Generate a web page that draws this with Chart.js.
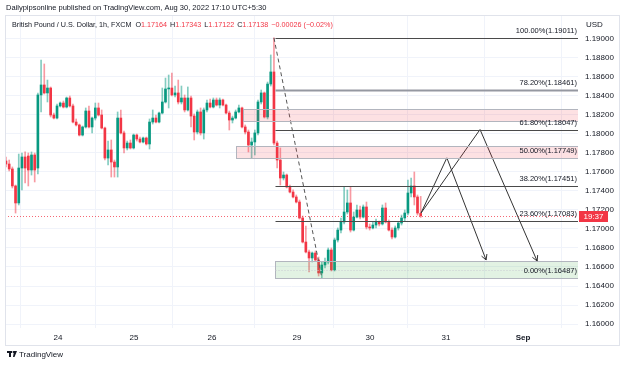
<!DOCTYPE html>
<html><head><meta charset="utf-8">
<script src="https://cdn.jsdelivr.net/npm/chart.js@4.4.0/dist/chart.umd.min.js"></script>
<style>html,body{margin:0;padding:0;background:#fff;}canvas{display:block;}</style>
</head><body>
<canvas id="c" width="625" height="367"></canvas>
<script>
// ---- data (GBP/USD 1h, FXCM) ----
const opens = [1.17716,1.17684,1.17632,1.17453,1.17274,1.17642,1.17758,1.17768,1.17621,1.17779,
1.17642,1.18411,1.18516,1.18432,1.18484,1.18200,1.18168,1.18295,1.18326,1.18284,
1.18379,1.18295,1.18126,1.18095,1.17989,1.18074,1.18242,1.18074,1.18168,1.18274,
1.18200,1.18063,1.17747,1.17832,1.17705,1.17653,1.18168,1.18011,1.17853,1.17905,
1.17853,1.17989,1.17947,1.17916,1.17958,1.17895,1.18126,1.18168,1.18126,1.18221,
1.18337,1.18474,1.18484,1.18411,1.18432,1.18337,1.18379,1.18253,1.18379,1.18189,
1.18021,1.18232,1.18011,1.18253,1.18326,1.18284,1.18358,1.18305,1.18358,1.18305,
1.18221,1.18147,1.18168,1.18232,1.18274,1.18074,1.18021,1.17884,1.17916,1.18011,
1.18337,1.18432,1.18179,1.18526,1.18653,1.17905,1.17726,1.17537,1.17568,1.17442,
1.17389,1.17337,1.17284,1.17116,1.16863,1.16758,1.16695,1.16747,1.16674,1.16537,
1.16621,1.16653,1.16779,1.16568,1.16884,1.16989,1.17074,1.17179,1.17274,1.16989,
1.17126,1.17200,1.17126,1.17232,1.17021,1.17011,1.17042,1.17074,1.17053,1.17221,
1.17074,1.16989,1.16916,1.17011,1.17063,1.17116,1.17168,1.17379,1.17453,1.17337,
1.17164];
const highs = [1.17758,1.17726,1.17653,1.17463,1.17789,1.17800,1.17811,1.17800,1.17811,1.17800,
1.18432,1.18779,1.18737,1.18568,1.18495,1.18221,1.18316,1.18337,1.18347,1.18389,
1.18400,1.18316,1.18158,1.18105,1.18084,1.18274,1.18295,1.18179,1.18326,1.18326,
1.18253,1.18074,1.17926,1.17937,1.17726,1.18232,1.18253,1.18032,1.17926,1.17937,
1.18000,1.18000,1.17968,1.17968,1.17968,1.18158,1.18253,1.18200,1.18232,1.18484,
1.18589,1.18621,1.18642,1.18505,1.18568,1.18505,1.18411,1.18495,1.18400,1.18211,
1.18253,1.18274,1.18274,1.18358,1.18368,1.18379,1.18379,1.18379,1.18368,1.18316,
1.18242,1.18189,1.18253,1.18305,1.18284,1.18095,1.18042,1.17958,1.18042,1.18358,
1.18463,1.18442,1.18547,1.18832,1.19011,1.17926,1.17853,1.17600,1.17579,1.17463,
1.17411,1.17358,1.17305,1.17137,1.17032,1.16779,1.16758,1.16768,1.16705,1.16653,
1.16695,1.16800,1.16800,1.16905,1.17011,1.17116,1.17442,1.17411,1.17442,1.17179,
1.17253,1.17242,1.17253,1.17284,1.17053,1.17074,1.17105,1.17084,1.17253,1.17274,
1.17095,1.17011,1.17032,1.17074,1.17147,1.17200,1.17516,1.17537,1.17600,1.17358,
1.17343];
const lows = [1.17653,1.17611,1.17432,1.17168,1.17253,1.17411,1.17484,1.17453,1.17568,1.17495,
1.17579,1.18232,1.18421,1.18337,1.18179,1.18158,1.18158,1.18284,1.18274,1.18274,
1.18284,1.18116,1.18084,1.17979,1.17979,1.18063,1.18063,1.18011,1.18147,1.18189,
1.18053,1.17726,1.17674,1.17547,1.17547,1.17547,1.18000,1.17800,1.17832,1.17842,
1.17842,1.17926,1.17905,1.17905,1.17884,1.17842,1.18105,1.18116,1.18116,1.18211,
1.18326,1.18274,1.18400,1.18389,1.18316,1.18316,1.18232,1.18242,1.18074,1.17937,
1.18000,1.17989,1.17947,1.18232,1.18274,1.18274,1.18295,1.18274,1.18295,1.18211,
1.18042,1.18116,1.18158,1.18221,1.18063,1.18000,1.17811,1.17747,1.17779,1.17989,
1.18316,1.18168,1.18158,1.18505,1.17884,1.17642,1.17463,1.17516,1.17432,1.17379,
1.17326,1.17274,1.17105,1.16853,1.16747,1.16547,1.16653,1.16663,1.16505,1.16487,
1.16589,1.16632,1.16558,1.16558,1.16863,1.16958,1.17053,1.17158,1.16968,1.16979,
1.17116,1.17105,1.17116,1.17000,1.16989,1.17000,1.17011,1.17032,1.17042,1.17063,
1.16979,1.16895,1.16905,1.16989,1.17042,1.17084,1.17147,1.17337,1.17253,1.17147,
1.17122];
const closes = [1.17684,1.17632,1.17453,1.17274,1.17642,1.17758,1.17642,1.17621,1.17779,1.17621,
1.18411,1.18516,1.18432,1.18484,1.18200,1.18168,1.18295,1.18326,1.18284,1.18379,
1.18295,1.18126,1.18095,1.17989,1.18074,1.18242,1.18074,1.18168,1.18274,1.18200,
1.18063,1.17747,1.17832,1.17705,1.17653,1.18168,1.18011,1.17853,1.17905,1.17853,
1.17989,1.17947,1.17916,1.17958,1.17895,1.18126,1.18168,1.18126,1.18221,1.18337,
1.18474,1.18484,1.18411,1.18432,1.18337,1.18379,1.18253,1.18379,1.18189,1.18021,
1.18232,1.18011,1.18253,1.18326,1.18284,1.18358,1.18305,1.18358,1.18305,1.18221,
1.18147,1.18168,1.18232,1.18274,1.18074,1.18021,1.17884,1.17916,1.18011,1.18337,
1.18432,1.18179,1.18526,1.18653,1.17905,1.17726,1.17537,1.17568,1.17442,1.17389,
1.17337,1.17284,1.17116,1.16863,1.16758,1.16695,1.16747,1.16674,1.16537,1.16621,
1.16653,1.16779,1.16568,1.16884,1.16989,1.17074,1.17179,1.17274,1.16989,1.17126,
1.17200,1.17126,1.17232,1.17021,1.17011,1.17042,1.17074,1.17053,1.17221,1.17074,
1.16989,1.16916,1.17011,1.17063,1.17116,1.17168,1.17379,1.17453,1.17337,1.17168,
1.17138];

const dayTickIndex = [16.3, 40.1, 64.6, 91.2, 114.1, 137.9, 162.1];
const dayTickLabels = ['24', '25', '26', '29', '30', '31', 'Sep'];
const priceTicks = [1.16, 1.162, 1.164, 1.166, 1.168, 1.17, 1.172, 1.174, 1.176, 1.178, 1.18, 1.182, 1.184, 1.186, 1.188, 1.19];

const fibLabels = ['100.00%', '78.20%', '61.80%', '50.00%', '38.20%', '23.60%', '0.00%'];
const fibValues = [1.19011, 1.18461, 1.18047, 1.17749, 1.17451, 1.17083, 1.16487];
const fibStartIndex = 84.3;

const zoneStart = [74.3, 72.1, 84.3];
const zoneLow  = [1.18137, 1.17749, 1.16487];
const zoneHigh = [1.18263, 1.17874, 1.16663];
const zoneKind = ['sell', 'sell', 'buy'];

const legX = [84, 99];
const legY = [1.19011, 1.16487];
const projAX = [130.1, 148.6, 166.5];
const projAY = [1.17168, 1.18047, 1.16663];
const projBX = [130.1, 138.2, 150.5];
const projBY = [1.17168, 1.17749, 1.16674];

const lastPrice = 1.17138;
const countdown = '19:37';
const headerText = 'Dailypipsonline published on TradingView.com, Aug 30, 2022 17:10 UTC+5:30';
const symbolText = 'British Pound / U.S. Dollar, 1h, FXCM';
const ohlcText = [['O', '1.17164'], ['H', '1.17343'], ['L', '1.17122'], ['C', '1.17138']];
const changeText = '\u22120.00026 (\u22120.02%)';

// ---- chart ----
const FONT = '"Liberation Sans", Arial, sans-serif';
const GREEN = '#089981', RED = '#f23645';
const idx = opens.map((_, i) => i);
const isUp = idx.map(i => closes[i] >= opens[i]);

const tvPlugin = {
  id: 'tv',
  beforeDatasetsDraw(chart) {
    const { ctx, chartArea: a, scales: { y } } = chart;
    ctx.save();
    const py = Math.round(y.getPixelForValue(lastPrice)) + 0.5;
    ctx.strokeStyle = 'rgba(242,54,69,0.75)';
    ctx.setLineDash([1, 2]);
    ctx.lineWidth = 1;
    ctx.beginPath(); ctx.moveTo(a.left, py); ctx.lineTo(a.right, py); ctx.stroke();
    ctx.restore();
  },
  afterDatasetsDraw(chart) {
    const { ctx, chartArea: a, scales: { x, y } } = chart;
    ctx.save();
    ctx.beginPath(); ctx.rect(a.left, a.top, a.right - a.left, a.bottom - a.top); ctx.clip();
    zoneStart.forEach((s, k) => {
      const x0 = Math.round(x.getPixelForValue(s)) + 0.5;
      const y0 = Math.round(y.getPixelForValue(zoneHigh[k])) + 0.5;
      const y1 = Math.round(y.getPixelForValue(zoneLow[k])) + 0.5;
      ctx.fillStyle = zoneKind[k] === 'buy' ? 'rgba(76,175,80,0.16)' : 'rgba(242,54,69,0.15)';
      ctx.fillRect(x0, y0, a.right - x0, y1 - y0);
      ctx.strokeStyle = '#b2b5be'; ctx.lineWidth = 1;
      ctx.strokeRect(x0, y0, a.right - x0 + 2, y1 - y0);
      if (zoneKind[k] === 'buy') {
        ctx.save(); ctx.setLineDash([1, 2]); ctx.strokeStyle = '#c8cbd2';
        const ym = Math.round((y0 + y1) / 2) + 0.5;
        ctx.beginPath(); ctx.moveTo(x0, ym); ctx.lineTo(a.right, ym); ctx.stroke(); ctx.restore();
      }
    });
    const fx = Math.round(x.getPixelForValue(fibStartIndex)) + 0.5;
    fibValues.forEach((v, k) => {
      const py = Math.round(y.getPixelForValue(v)) + 0.5;
      if (fibLabels[k] === '50.00%' || fibLabels[k] === '0.00%') return;
      ctx.strokeStyle = fibLabels[k] === '78.20%' ? '#9598a1' : '#4a4a4a';
      ctx.lineWidth = fibLabels[k] === '78.20%' ? 2 : 1;
      ctx.beginPath(); ctx.moveTo(fx, py); ctx.lineTo(a.right, py); ctx.stroke();
    });
    ctx.restore();
    ctx.save();
    ctx.font = '7.5px ' + FONT; ctx.fillStyle = '#131722';
    ctx.textAlign = 'right'; ctx.textBaseline = 'middle';
    fibValues.forEach((v, k) => {
      const py = y.getPixelForValue(v);
      ctx.fillText(fibLabels[k] + '(' + v.toFixed(5) + ')', a.right - 1, py - 7);
    });
    const head = (xs, ys) => {
      const n = xs.length;
      const x1 = x.getPixelForValue(xs[n - 1]), y1 = y.getPixelForValue(ys[n - 1]);
      const x0 = x.getPixelForValue(xs[n - 2]), y0 = y.getPixelForValue(ys[n - 2]);
      const ang = Math.atan2(y1 - y0, x1 - x0);
      ctx.strokeStyle = '#333'; ctx.lineWidth = 1;
      ctx.beginPath();
      ctx.moveTo(x1 - 6 * Math.cos(ang - 0.5), y1 - 6 * Math.sin(ang - 0.5));
      ctx.lineTo(x1, y1);
      ctx.lineTo(x1 - 6 * Math.cos(ang + 0.5), y1 - 6 * Math.sin(ang + 0.5));
      ctx.stroke();
    };
    head(projAX, projAY); head(projBX, projBY);
    ctx.restore();
  },
  afterDraw(chart) {
    const { ctx, chartArea: a, scales: { y } } = chart;
    ctx.save();
    ctx.strokeStyle = '#e0e3eb'; ctx.lineWidth = 1;
    ctx.strokeRect(5.5, 15.5, 614, 330);
    ctx.font = '7.5px ' + FONT; ctx.fillStyle = '#131722'; ctx.textBaseline = 'middle'; ctx.textAlign = 'left';
    ctx.fillText(headerText, 6, 8);
    let lx = 12; const ly = 25;
    ctx.font = '7.2px ' + FONT;
    ctx.fillStyle = '#131722'; ctx.fillText(symbolText, lx, ly); lx += ctx.measureText(symbolText).width + 4;
    ohlcText.forEach(([k, v]) => {
      ctx.fillStyle = '#131722'; ctx.fillText(k, lx, ly); lx += ctx.measureText(k).width;
      ctx.fillStyle = RED; ctx.fillText(v, lx, ly); lx += ctx.measureText(v).width + 3;
    });
    ctx.fillStyle = RED; ctx.fillText(changeText, lx, ly);
    ctx.fillStyle = '#131722'; ctx.font = '8px ' + FONT;
    ctx.fillText('USD', 586, 25);
    const py = y.getPixelForValue(lastPrice);
    ctx.fillStyle = RED;
    ctx.fillRect(a.right + 1, Math.round(py) - 5, 29, 11);
    ctx.fillStyle = '#fff'; ctx.textAlign = 'center'; ctx.font = '8px ' + FONT;
    ctx.fillText(countdown, a.right + 15.5, Math.round(py) + 0.5);
    ctx.fillStyle = '#131722';
    ctx.fillRect(7, 351, 5, 2); ctx.fillRect(9, 351, 2, 6);
    ctx.beginPath(); ctx.arc(13.5, 352, 1, 0, Math.PI * 2); ctx.fill();
    ctx.beginPath(); ctx.moveTo(14, 351); ctx.lineTo(17, 351); ctx.lineTo(14.5, 357); ctx.lineTo(13, 357); ctx.closePath(); ctx.fill();
    ctx.textAlign = 'left'; ctx.font = '8px ' + FONT;
    ctx.fillText('TradingView', 19, 355);
    ctx.restore();
  }
};

new Chart(document.getElementById('c'), {
  type: 'bar',
  data: {
    datasets: [
      {
        type: 'line', data: legX.map((v, k) => ({ x: v, y: legY[k] })),
        borderColor: '#555', borderWidth: 1, borderDash: [4, 3], pointRadius: 0, fill: false, tension: 0, order: -1
      },
      {
        type: 'line', data: projAX.map((v, k) => ({ x: v, y: projAY[k] })),
        borderColor: '#333', borderWidth: 1, pointRadius: 0, fill: false, tension: 0, order: -1
      },
      {
        type: 'line', data: projBX.map((v, k) => ({ x: v, y: projBY[k] })),
        borderColor: '#333', borderWidth: 1, pointRadius: 0, fill: false, tension: 0, order: -1
      },
      {
        label: 'body', data: idx.map(i => ({ x: i, y: [opens[i], closes[i]] })),
        backgroundColor: idx.map(i => isUp[i] ? GREEN : RED),
        barThickness: 2, minBarLength: 1, grouped: false, borderWidth: 0, order: 0
      },
      {
        label: 'wick', data: idx.map(i => ({ x: i, y: [lows[i], highs[i]] })),
        backgroundColor: idx.map(i => isUp[i] ? 'rgba(8,153,129,0.5)' : 'rgba(242,54,69,0.5)'),
        barThickness: 1, grouped: false, borderWidth: 0, order: 1
      }
    ]
  },
  options: {
    responsive: false, animation: false,
    layout: { padding: { left: 5, top: 15, right: 5, bottom: 22 } },
    plugins: { legend: { display: false }, tooltip: { enabled: false } },
    scales: {
      x: {
        type: 'linear', min: -0.31, max: 179.31, offset: false,
        afterBuildTicks: s => { s.ticks = dayTickIndex.map(v => ({ value: v })); },
        afterFit: s => { s.height = 17; },
        ticks: {
          autoSkip: false, maxRotation: 0, padding: 5, color: '#131722',
          font: ctx => ({ family: FONT, size: 8, weight: (ctx.tick && dayTickLabels[ctx.index] === 'Sep') ? 'bold' : 'normal' }),
          callback: (v, i) => dayTickLabels[i]
        },
        grid: { color: '#f0f3fa', drawTicks: false },
        border: { display: false }
      },
      y: {
        position: 'right', min: 1.159579, max: 1.192526,
        afterBuildTicks: s => { s.ticks = priceTicks.map(v => ({ value: v })); },
        afterFit: s => { s.width = 42; },
        ticks: {
          autoSkip: false, padding: 7, color: '#131722', font: { family: FONT, size: 8 },
          callback: v => Number(v).toFixed(5)
        },
        grid: { color: '#f0f3fa', drawTicks: false },
        border: { display: false }
      }
    }
  },
  plugins: [tvPlugin]
});
</script>
</body></html>
